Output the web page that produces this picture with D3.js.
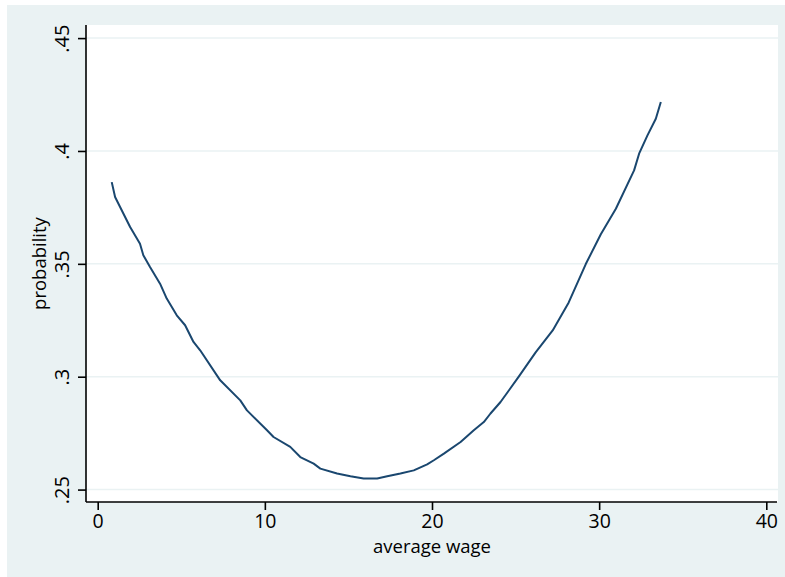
<!DOCTYPE html>
<html>
<head>
<meta charset="utf-8">
<script src="https://cdn.jsdelivr.net/npm/d3@7"></script>
<style>
  html, body { margin: 0; padding: 0; background: #ffffff; }
  svg { display: block; }
  text { font-family: "Open Sans", "DejaVu Sans", sans-serif; fill: #000; }
</style>
</head>
<body>
<svg id="chart" width="785" height="577"></svg>
<script>
// Data
const wage = [0.84, 1.04, 1.34, 1.94, 2.53, 2.73, 3.13, 3.73, 4.13, 4.73, 5.23, 5.73, 6.13,
  7.33, 8.53, 8.93, 10.13, 10.52, 11.52, 12.12, 12.92, 13.32, 14.32, 15.12, 15.91, 16.72,
  17.32, 18.11, 18.91, 19.71, 20.11, 20.71, 21.71, 22.50, 23.10, 23.50, 24.10, 25.18,
  26.20, 27.22, 28.18, 29.20, 30.10, 31.00, 32.09, 32.39, 32.89, 33.39, 33.69];
const probability = [0.3862, 0.3796, 0.3752, 0.3663, 0.3589, 0.3538, 0.3486, 0.3412, 0.3346,
  0.3272, 0.3228, 0.3154, 0.3117, 0.2984, 0.2895, 0.2851, 0.2763, 0.2733, 0.2689, 0.2644,
  0.2615, 0.2593, 0.2571, 0.2559, 0.2549, 0.2549, 0.2559, 0.2571, 0.2585, 0.2612, 0.2630,
  0.2659, 0.2711, 0.2763, 0.2799, 0.2837, 0.2888, 0.2999, 0.3108, 0.3205, 0.3329, 0.3499,
  0.3631, 0.3744, 0.3914, 0.3988, 0.4069, 0.4143, 0.4217];
const xTicks = [0, 10, 20, 30, 40];
const yTicks = [0.25, 0.30, 0.35, 0.40, 0.45];
const yTickLabels = [".25", ".3", ".35", ".4", ".45"];
const xTitle = "average wage";
const yTitle = "probability";

const svg = d3.select("#chart");
const W = 785, H = 577;
const plot = { left: 86, right: 778, top: 25, bottom: 502 };

// outer background
svg.append("rect").attr("x", 7).attr("y", 5).attr("width", W - 7).attr("height", H - 5)
  .attr("fill", "#eaf2f3");
// plot region
svg.append("rect").attr("x", plot.left).attr("y", plot.top)
  .attr("width", plot.right - plot.left).attr("height", plot.bottom - plot.top)
  .attr("fill", "#ffffff");

const x = d3.scaleLinear().domain([-0.7, 40.7]).range([plot.left, plot.right]);
const y = d3.scaleLinear().domain([0.2445, 0.4558]).range([plot.bottom, plot.top]);

// grid
svg.append("g").selectAll("line").data(yTicks).join("line")
  .attr("x1", plot.left).attr("x2", plot.right)
  .attr("y1", d => y(d)).attr("y2", d => y(d))
  .attr("stroke", "#eaf2f3").attr("stroke-width", 1.5);

// curve
const line = d3.line().x((d, i) => x(wage[i])).y(d => y(d));
svg.append("path").datum(probability)
  .attr("d", line)
  .attr("fill", "none").attr("stroke", "#1a476f").attr("stroke-width", 2)
  .attr("stroke-linejoin", "round");

// y axis
const yAxis = d3.axisLeft(y).tickValues(yTicks).tickSize(8)
  .tickFormat((d, i) => yTickLabels[i]);
const gy = svg.append("g").attr("transform", `translate(${plot.left},0)`).call(yAxis);
gy.select(".domain").attr("d", `M0,${plot.top}V${plot.bottom}`).attr("stroke", "#000").attr("stroke-width", 1.6);
gy.selectAll(".tick line").attr("stroke", "#000").attr("stroke-width", 1.6);
gy.selectAll(".tick text")
  .attr("x", null).attr("dy", null)
  .attr("transform", "translate(-17,0) rotate(-90)")
  .attr("text-anchor", "middle")
  .style("font-size", "20px")
  .style("font-family", "'Open Sans', sans-serif");

// x axis
const xAxis = d3.axisBottom(x).tickValues(xTicks).tickSize(8).tickFormat(d3.format("d"));
const gx = svg.append("g").attr("transform", `translate(0,${plot.bottom})`).call(xAxis);
gx.select(".domain").attr("d", `M${plot.left},0H${plot.right - 1}`).attr("stroke", "#000").attr("stroke-width", 1.6);
gx.selectAll(".tick line").attr("stroke", "#000").attr("stroke-width", 1.6);
gx.selectAll(".tick text")
  .attr("y", 26).attr("dy", null)
  .style("font-size", "19.5px")
  .style("font-family", "'Open Sans', sans-serif");

// axis titles
svg.append("text").attr("x", (plot.left + plot.right) / 2).attr("y", 553)
  .attr("text-anchor", "middle").style("font-size", "18.5px").text(xTitle);
svg.append("text")
  .attr("transform", `translate(46,${(plot.top + plot.bottom) / 2}) rotate(-90)`)
  .attr("text-anchor", "middle").style("font-size", "18.5px").text(yTitle);
</script>
</body>
</html>
